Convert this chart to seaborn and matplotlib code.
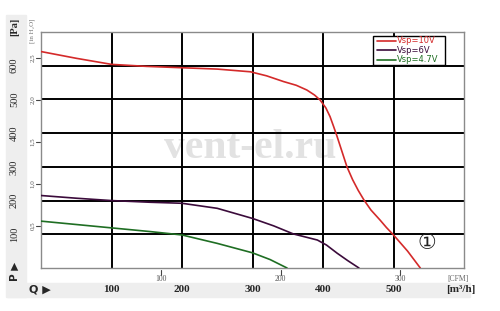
import matplotlib
matplotlib.use("Agg")
import matplotlib.pyplot as plt
import matplotlib.patches as mpatches
import seaborn as sns
import pandas as pd

# ---- data (m3/h, Pa) ----
q_10 = [0, 50, 100, 150, 200, 250, 297, 320, 344, 362, 377, 388, 396, 404, 410, 415, 420, 427,
        434, 442, 450, 458, 468, 481, 490, 500, 520, 538]
p_10 = [642, 622, 604, 598, 594, 590, 582, 570, 553, 542, 528, 513, 498, 475, 449, 420, 390, 345,
        300, 262, 230, 202, 172, 142, 120, 98, 50, 0]
q_6 = [0, 50, 100, 155, 200, 250, 300, 330, 358, 375, 392, 405, 420, 435, 451]
p_6 = [215, 207, 200, 195, 192, 177, 147, 125, 101, 92, 83, 68, 44, 22, 0]
q_47 = [0, 50, 100, 155, 200, 250, 300, 325, 349]
p_47 = [139, 129, 119, 108, 98, 73, 45, 25, 0]
series = ["Vsp=10V", "Vsp=6V", "Vsp=4.7V"]
colors = ["#d42a2a", "#3b0b3b", "#1f6e23"]

q_ticks = [100, 200, 300, 400, 500]
pa_ticks = [100, 200, 300, 400, 500, 600]
cfm_ticks = [100, 200, 300]
inh2o_ticks = [0.5, 1.0, 1.5, 2.0, 2.5]
inh2o_labels = ["0,5", "1,0", "1,5", "2,0", "2,5"]

df = pd.concat([
    pd.DataFrame({"Q": q_10, "P": p_10, "s": series[0]}),
    pd.DataFrame({"Q": q_6, "P": p_6, "s": series[1]}),
    pd.DataFrame({"Q": q_47, "P": p_47, "s": series[2]}),
])

sns.set_theme(style="white")
plt.rcParams["font.family"] = ["Liberation Serif", "DejaVu Sans", "Noto Sans CJK SC"]

fig = plt.figure(figsize=(5.0, 3.11), dpi=100)
# gray bands (behind everything)
fig.patches.append(mpatches.Rectangle((7/500, 1-297/311), 463/500, 14/311, transform=fig.transFigure,
                                      color="#eeeeee", zorder=-5))
fig.patches.append(mpatches.Rectangle((6/500, 1-297/311), 20/500, 282/311, transform=fig.transFigure,
                                      color="#eeeeee", zorder=-5))

ax = fig.add_axes([41/500, 1-268/311, 423/500, 236/311])
ax.set_xlim(0, 600)
ax.set_ylim(0, 700)
for v in q_ticks:
    ax.axvline(v, color="black", lw=1.4, zorder=1)
for v in pa_ticks:
    ax.axhline(v, color="black", lw=1.4, zorder=1)

sns.lineplot(data=df, x="Q", y="P", hue="s", palette=colors, sort=False, estimator=None,
             lw=1.2, ax=ax, legend=False, zorder=3)

ax.set_xticks([])
ax.set_yticks([])
ax.set_xlabel("")
ax.set_ylabel("")
for sp in ax.spines.values():
    sp.set_color("#8a8a8a")
    sp.set_linewidth(1.0)

# watermark
ax.text(297, 356, "vent-el.ru", color="#e2e2e2", fontsize=30, ha="center", va="center",
        zorder=0.5, fontweight="bold")

# legend box
leg_box = mpatches.Rectangle((0.785, 0.86), 0.17, 0.125, transform=ax.transAxes, facecolor="white",
                             edgecolor="black", lw=1.0, zorder=4)
ax.add_patch(leg_box)
for i, (lab, c) in enumerate(zip(series, colors)):
    yy = 0.963 - i * 0.04
    ax.plot([0.795, 0.84], [yy, yy], color=c, lw=1.2, transform=ax.transAxes, zorder=5)
    ax.text(0.842, yy, lab, color=c, fontsize=6, va="center", ha="left",
            transform=ax.transAxes, zorder=5, family=["DejaVu Sans"])

# circled number
ax.text(548, 74, "\u2460", fontsize=15, ha="center", va="center", color="#222222",
        family=["DejaVu Sans", "Noto Sans CJK SC"], zorder=5)

# bottom m3/h labels
bt = ax.get_xaxis_transform()
for v in q_ticks:
    ax.text(v, -0.093, str(v), transform=bt, ha="center", va="center", fontsize=8,
            fontweight="bold", clip_on=False)
ax.text(595, -0.093, "[m\u00b3/h]", transform=bt, ha="center", va="center", fontsize=8,
        fontweight="bold", clip_on=False)
ax.text(-2, -0.093, "Q \u25b6", transform=bt, ha="center", va="center", fontsize=8,
        fontweight="bold", clip_on=False, family=["DejaVu Sans"])

# CFM secondary labels
for v in cfm_ticks:
    xm = v * 1.699
    ax.plot([xm, xm], [-0.008, -0.028], color="#444444", lw=0.8, transform=bt, clip_on=False)
    ax.text(xm, -0.045, str(v), transform=bt, ha="center", va="center", fontsize=5.5,
            color="#555555", clip_on=False)
ax.text(591, -0.045, "[CFM]", transform=bt, ha="center", va="center", fontsize=5.5,
        color="#666666", clip_on=False)

# left Pa labels (rotated)
lt = ax.get_yaxis_transform()
for v in pa_ticks:
    ax.text(-0.063, v, str(v), transform=lt, ha="center", va="center", rotation=90,
            fontsize=7.5, clip_on=False)
ax.text(-0.063, 715, "[Pa]", transform=lt, ha="center", va="center", rotation=90,
        fontsize=7.5, fontweight="bold", clip_on=False)
ax.text(-0.063, -10, "P \u25b6", transform=lt, ha="center", va="center", rotation=90,
        fontsize=7.5, fontweight="bold", clip_on=False, family=["DejaVu Sans"])

# in H2O labels
for v, lab in zip(inh2o_ticks, inh2o_labels):
    pa = v * 249.09
    ax.plot([-0.012, -0.003], [pa, pa], color="#444444", lw=0.8, transform=lt, clip_on=False)
    ax.text(-0.02, pa, lab, transform=lt, ha="center", va="center", rotation=90,
            fontsize=5, color="#555555", clip_on=False)
ax.text(-0.02, 703, "[in H\u2082O]", transform=lt, ha="center", va="center", rotation=90,
        fontsize=5, color="#777777", clip_on=False)

fig.savefig("out.png", dpi=100)
